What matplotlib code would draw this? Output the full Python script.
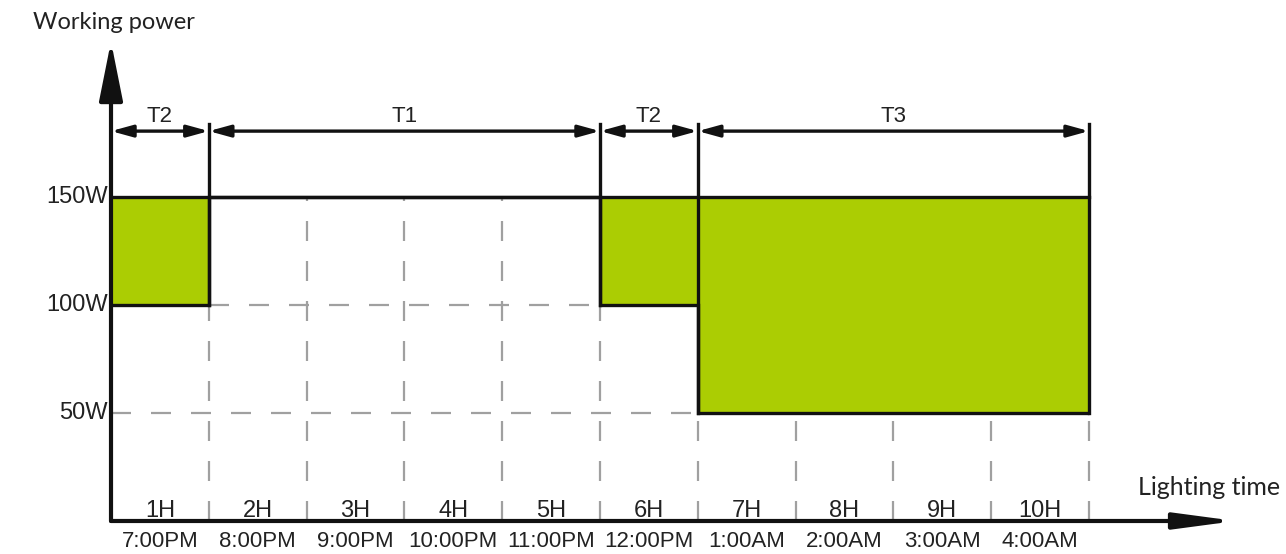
import numpy as np
import matplotlib.pyplot as plt

# data
hour_edges = list(range(0, 11))
power = [100, 150, 150, 150, 150, 100, 50, 50, 50, 50]
full_power = 150
y_ticks = [50, 100, 150]
y_tick_labels = ['50W', '100W', '150W']
hour_labels = ['1H', '2H', '3H', '4H', '5H', '6H', '7H', '8H', '9H', '10H']
time_labels = ['7:00PM', '8:00PM', '9:00PM', '10:00PM', '11:00PM', '12:00PM',
               '1:00AM', '2:00AM', '3:00AM', '4:00AM']
period_names = ['T2', 'T1', 'T2', 'T3']
period_edges = [0, 1, 5, 6, 10]

green = '#abcd03'
black = '#111111'
grey = '#a0a0a0'

plt.rcParams['font.family'] = ['Liberation Sans', 'DejaVu Sans']

fig = plt.figure(figsize=(12.86, 5.54), dpi=100)
ax = fig.add_axes([0, 0, 1, 1])
ax.set_xlim(-1.135, 12.014)
ax.set_ylim(-15.28, 241.2)
ax.axis('off')

# green areas between actual power and full power
ax.stairs(power, hour_edges, baseline=full_power, fill=True, color=green, lw=0, zorder=1)

def pw(i):
    return power[i] if 0 <= i < len(power) else None

# dashed grid
for level in y_ticks[:-1]:
    above = [i for i, p in enumerate(power) if p > level]
    if above:
        ax.plot([above[0], above[-1] + 1], [level, level], color=grey, lw=1.6,
                ls=(0, (9, 9)), zorder=0)
for h in hour_edges[1:]:
    low = min(p for p in (pw(h - 1), pw(h)) if p is not None)
    ax.plot([h, h], [0, low], color=grey, lw=1.6, ls=(0, (9, 9)), zorder=0)

# outlines
ax.plot([0, 10], [full_power, full_power], color=black, lw=2.4, zorder=3)
ax.stairs(power, hour_edges, baseline=None, color=black, lw=2.4, zorder=3)
top_mark = 184
for b in period_edges[1:]:
    low = min(p for p in (pw(b - 1), pw(b)) if p is not None)
    ax.plot([b, b], [low, top_mark], color=black, lw=2.4, zorder=3)

# period arrows
arrow_y = 180.5
for name, a, b in zip(period_names, period_edges[:-1], period_edges[1:]):
    ax.annotate('', xy=(b, arrow_y), xytext=(a, arrow_y),
                arrowprops=dict(arrowstyle='<|-|>,head_length=0.8,head_width=0.22',
                                color=black, lw=2.4, shrinkA=0, shrinkB=0,
                                mutation_scale=16), zorder=4)
    ax.text((a + b) / 2, 182.5, name, ha='center', va='bottom', fontsize=16, color='#222')

# axes with arrows
ax.annotate('', xy=(0, 222), xytext=(0, 0),
            arrowprops=dict(arrowstyle='-|>,head_length=1.8,head_width=0.36',
                            color=black, lw=3, shrinkA=0, shrinkB=0,
                            mutation_scale=20), zorder=5)
ax.annotate('', xy=(11.5, 0), xytext=(0, 0),
            arrowprops=dict(arrowstyle='-|>,head_length=1.8,head_width=0.24',
                            color=black, lw=3, shrinkA=0, shrinkB=0,
                            mutation_scale=20), zorder=5)

# labels
for v, t in zip(y_ticks, y_tick_labels):
    ax.text(-0.03, v, t, ha='right', va='center', fontsize=17, color='#222')
for i, (hl, tl) in enumerate(zip(hour_labels, time_labels)):
    ax.text(i + 0.5, 2, hl, ha='center', va='baseline', fontsize=17, color='#222')
    ax.text(i + 0.5, -9.3, tl, ha='center', va='center', fontsize=16, color='#222')

ax.text(0.03, 231, 'Working power', ha='center', va='center', fontsize=17,
        color='#222', family=['Lato', 'DejaVu Sans'])
ax.text(10.5, 15.7, 'Lighting time', ha='left', va='center', fontsize=18,
        color='#222', family=['Lato', 'DejaVu Sans'])

fig.savefig('out.png', dpi=100)
